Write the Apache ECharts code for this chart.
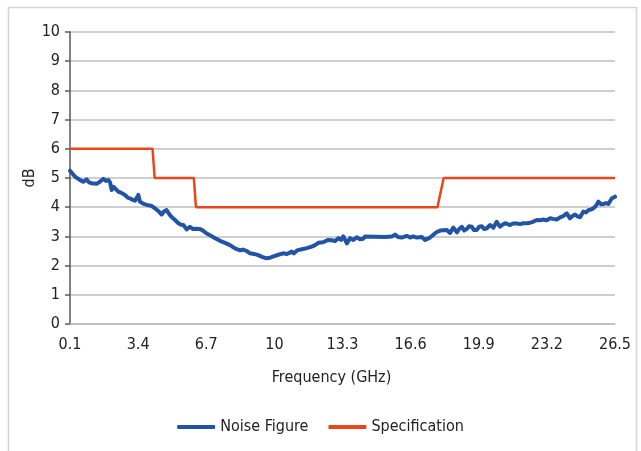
<!DOCTYPE html>
<html>
<head>
<meta charset="utf-8">
<title>Noise Figure vs Frequency</title>
<script src="https://cdn.jsdelivr.net/npm/echarts@6/dist/echarts.min.js"></script>
<style>
  html, body { margin: 0; padding: 0; background: #ffffff; }
  #chart { width: 641px; height: 451px; }
</style>
</head>
<body>
<div id="chart"></div>
<script>
// Frequency tick labels (GHz)
const freqTicks = [0.1, 3.4, 6.7, 10, 13.3, 16.6, 19.9, 23.2, 26.5];

// Measured noise figure: frequency (GHz) and value (dB)
const noiseFreq = [
  0.10, 0.34, 0.54, 0.74, 0.91, 1.02, 1.15, 1.39, 1.55, 1.71,
  1.84, 1.96, 2.04, 2.12, 2.21, 2.28, 2.44, 2.57, 2.76, 2.91,
  3.01, 3.15, 3.25, 3.41, 3.49, 3.64, 3.82, 4.06, 4.22, 4.36,
  4.54, 4.65, 4.78, 4.87, 4.94, 5.09, 5.19, 5.35, 5.48, 5.59,
  5.75, 5.91, 6.06, 6.20, 6.40, 6.54, 6.72, 6.93, 7.13, 7.37,
  7.61, 7.85, 8.09, 8.34, 8.48, 8.66, 8.82, 9.01, 9.22, 9.40,
  9.63, 9.79, 10.03, 10.23, 10.43, 10.61, 10.84, 10.95, 11.10, 11.33,
  11.57, 11.81, 11.97, 12.13, 12.36, 12.61, 12.78, 12.94, 13.10, 13.23,
  13.34, 13.51, 13.67, 13.83, 13.99, 14.15, 14.30, 14.39, 14.88, 15.36,
  15.69, 15.85, 15.99, 16.17, 16.41, 16.57, 16.72, 16.90, 17.14, 17.30,
  17.54, 17.69, 17.87, 18.03, 18.35, 18.51, 18.67, 18.84, 18.95, 19.08,
  19.19, 19.32, 19.43, 19.56, 19.67, 19.80, 19.92, 20.05, 20.16, 20.29,
  20.45, 20.61, 20.77, 20.93, 21.05, 21.18, 21.30, 21.42, 21.56, 21.74,
  21.90, 22.06, 22.24, 22.39, 22.53, 22.71, 22.87, 23.03, 23.19, 23.36,
  23.50, 23.68, 23.84, 24.00, 24.16, 24.32, 24.44, 24.57, 24.69, 24.81,
  24.97, 25.10, 25.21, 25.34, 25.45, 25.58, 25.70, 25.83, 25.94, 26.07,
  26.18, 26.34, 26.50
];
const noiseDb = [
  5.25, 5.05, 4.95, 4.87, 4.95, 4.85, 4.82, 4.80, 4.87, 4.97,
  4.90, 4.93, 4.85, 4.59, 4.70, 4.70, 4.53, 4.50, 4.42, 4.32,
  4.30, 4.25, 4.22, 4.42, 4.19, 4.12, 4.08, 4.04, 3.96, 3.88,
  3.75, 3.85, 3.90, 3.85, 3.73, 3.62, 3.56, 3.45, 3.40, 3.39,
  3.24, 3.33, 3.25, 3.26, 3.25, 3.20, 3.10, 3.02, 2.94, 2.85,
  2.78, 2.70, 2.59, 2.52, 2.55, 2.50, 2.42, 2.40, 2.36, 2.30,
  2.25, 2.27, 2.33, 2.38, 2.42, 2.40, 2.48, 2.42, 2.52, 2.56,
  2.60, 2.65, 2.70, 2.78, 2.80, 2.88, 2.87, 2.84, 2.94, 2.88,
  3.00, 2.76, 2.94, 2.88, 2.97, 2.90, 2.92, 3.00, 2.99, 2.98,
  3.00, 3.06, 2.98, 2.96, 3.02, 2.96, 3.00, 2.96, 2.98, 2.88,
  2.96, 3.05, 3.15, 3.20, 3.22, 3.12, 3.30, 3.14, 3.25, 3.33,
  3.20, 3.25, 3.35, 3.33, 3.22, 3.22, 3.33, 3.35, 3.25, 3.28,
  3.39, 3.30, 3.50, 3.33, 3.40, 3.45, 3.42, 3.39, 3.44, 3.44,
  3.42, 3.45, 3.45, 3.47, 3.50, 3.56, 3.55, 3.58, 3.55, 3.62,
  3.60, 3.58, 3.65, 3.70, 3.79, 3.62, 3.70, 3.75, 3.68, 3.66,
  3.85, 3.82, 3.90, 3.92, 3.96, 4.05, 4.19, 4.10, 4.11, 4.14,
  4.11, 4.30, 4.36
];

// Specification limit: frequency (GHz) and value (dB)
const specFreq = [0.1, 4.1, 4.2, 6.1, 6.2, 17.9, 18.2, 26.5];
const specDb   = [6,   6,   5,   5,   4,   4,    5,    5];

const zip = (xs, ys) => xs.map((x, i) => [x, ys[i]]);

const FONT = '"Liberation Sans Narrow", "DejaVu Sans Condensed", "Roboto Condensed", sans-serif';
const chart = echarts.init(document.getElementById('chart'), null, { renderer: 'canvas' });

chart.setOption({
  backgroundColor: '#ffffff',
  animation: false,
  graphic: [{
    type: 'rect',
    shape: { x: 8.5, y: 7.5, width: 628, height: 460 },
    style: { fill: 'none', stroke: '#d4d4d4', lineWidth: 1.5 },
    silent: true
  }],
  grid: { left: 70, right: 26, top: 32, bottom: 127, containLabel: false },
  xAxis: {
    type: 'value',
    min: 0.1,
    max: 26.5,
    name: 'Frequency (GHz)',
    nameLocation: 'middle',
    nameGap: 46,
    nameTextStyle: { fontFamily: FONT, fontSize: 16, color: '#222', padding: [0, 22, 0, 0] },
    axisLine: { show: true, lineStyle: { color: '#bfbfbf', width: 1.5 } },
    axisTick: { show: false },
    splitLine: { show: false },
    axisLabel: {
      customValues: freqTicks,
      formatter: v => String(v),
      fontFamily: FONT, fontSize: 16, color: '#222', margin: 13
    }
  },
  yAxis: {
    type: 'value',
    min: 0,
    max: 10,
    interval: 1,
    name: 'dB',
    nameLocation: 'middle',
    nameGap: 32,
    nameMoveOverlap: false,
    nameRotate: 90,
    nameTextStyle: { fontFamily: FONT, fontSize: 16, color: '#222' },
    axisLine: { show: true, lineStyle: { color: '#595959', width: 1.5 } },
    axisTick: { show: true, length: 5, lineStyle: { color: '#595959', width: 1.5 } },
    splitLine: { show: true, lineStyle: { color: '#bfbfbf', width: 1.5 } },
    axisLabel: { fontFamily: FONT, fontSize: 16, color: '#222', margin: 10 }
  },
  legend: {
    bottom: 11,
    left: 'center',
    itemWidth: 38,
    itemHeight: 4,
    itemGap: 20,
    icon: 'roundRect',
    textStyle: { fontFamily: FONT, fontSize: 16, color: '#222' },
    data: ['Noise Figure', 'Specification']
  },
  series: [
    {
      name: 'Noise Figure',
      type: 'line',
      data: zip(noiseFreq, noiseDb),
      showSymbol: false,
      smooth: false,
      itemStyle: { color: '#2154a5' },
      lineStyle: { color: '#2154a5', width: 4, cap: 'round', join: 'round' },
      z: 3
    },
    {
      name: 'Specification',
      type: 'line',
      data: zip(specFreq, specDb),
      showSymbol: false,
      itemStyle: { color: '#e8461b' },
      lineStyle: { color: '#e8461b', width: 2.5 },
      z: 2
    }
  ]
});
</script>
</body>
</html>
